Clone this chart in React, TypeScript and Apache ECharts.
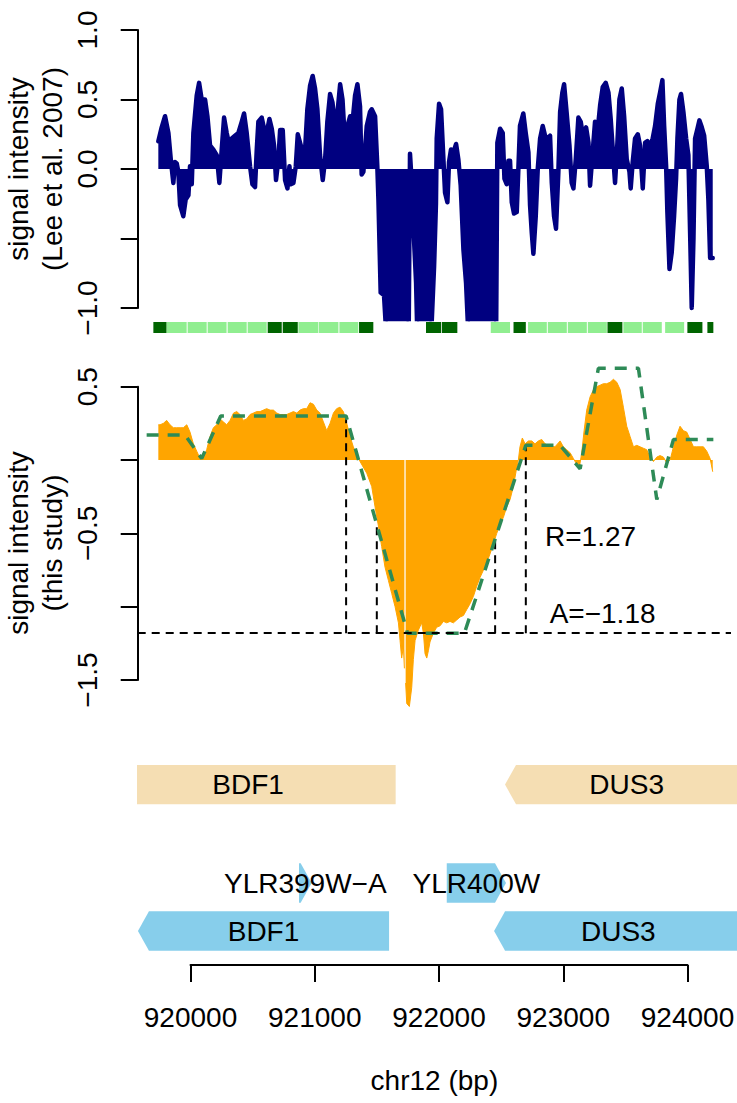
import React, { useEffect, useRef } from "react";
import * as echarts from "echarts";

// ---------- data ----------
// Top panel (Lee et al. 2007) signal: positions (bp) and intensities
const navyPos = [
  919741, 919768, 919795, 919822, 919841, 919862, 919875, 919889, 919902, 919916,
  919942, 919961, 919983, 919996, 920010, 920023, 920050, 920069, 920090, 920117,
  920136, 920157, 920184, 920211, 920232, 920251, 920270, 920291, 920313, 920332,
  920358, 920385, 920412, 920431, 920452, 920479, 920498, 920519, 920533, 920546,
  920573, 920592, 920613, 920635, 920654, 920672, 920688, 920707, 920721, 920742,
  920761, 920780, 920796, 920806, 920828, 920847, 920863, 920881, 920903, 920922,
  920940, 920962, 920983, 921002, 921021, 921042, 921064, 921083, 921101, 921123,
  921142, 921163, 921183, 921204, 921223, 921244, 921263, 921284, 921306, 921324,
  921343, 921364, 921377, 921391, 921418, 921444, 921458, 921485, 921503, 921512,
  921530, 921557, 921579, 921610, 921660, 921710, 921755, 921766, 921780, 921793,
  921815, 921825, 921870, 921920, 921941, 921960, 921975, 921981, 922000, 922016,
  922035, 922048, 922067, 922080, 922096, 922115, 922137, 922155, 922174, 922196,
  922217, 922236, 922290, 922360, 922430, 922459, 922469, 922491, 922512, 922526,
  922544, 922558, 922571, 922585, 922603, 922625, 922638, 922651, 922678, 922697,
  922719, 922732, 922746, 922759, 922778, 922794, 922813, 922834, 922853, 922872,
  922893, 922907, 922925, 922941, 922960, 922974, 922992, 923006, 923027, 923049,
  923067, 923081, 923100, 923121, 923140, 923161, 923183, 923202, 923215, 923234,
  923255, 923274, 923296, 923317, 923341, 923363, 923381, 923403, 923416, 923435,
  923451, 923470, 923489, 923510, 923532, 923542, 923558, 923577, 923599, 923617,
  923639, 923658, 923676, 923698, 923719, 923738, 923760, 923778, 923797, 923811,
  923827, 923837, 923854, 923872, 923891, 923907, 923918, 923934, 923947, 923966,
  923988, 924006, 924020, 924033, 924047, 924060, 924079, 924095, 924114, 924133,
  924154, 924167, 924181, 924202,
];
const navyVal = [
  0.20, 0.30, 0.38, 0.26, 0.07, -0.10, 0.05, 0.04, -0.02, -0.26,
  -0.34, -0.22, -0.19, 0.02, -0.11, 0.26, 0.53, 0.62, 0.50, 0.50,
  0.38, 0.17, 0.14, 0.10, -0.10, 0.14, 0.37, 0.26, 0.17, 0.22,
  0.24, 0.26, 0.34, 0.40, 0.26, 0.02, -0.11, -0.13, 0.14, 0.34,
  0.37, 0.29, 0.26, 0.36, 0.29, 0.17, -0.08, 0.07, 0.28, 0.28,
  -0.08, -0.14, 0.02, -0.11, -0.10, 0.02, 0.25, 0.19, 0.12, 0.14,
  0.43, 0.60, 0.67, 0.58, 0.43, 0.10, -0.08, 0.07, 0.34, 0.54,
  0.48, 0.31, 0.41, 0.61, 0.50, 0.17, 0.31, 0.38, 0.36, 0.53,
  0.61, 0.45, -0.04, -0.02, 0.31, 0.41, 0.43, 0.38, 0.02, -0.22,
  -0.89, -0.91, -1.25, -1.3, -1.3, -1.3, -1.25, 0.11, -0.10, -0.41,
  -0.82, -1.2, -1.3, -1.3, -1.1, -0.7, -0.25, 0.22, 0.47, 0.43,
  0.07, -0.17, -0.24, 0.05, 0.14, 0.12, 0.18, 0.07, -0.12, -0.58,
  -0.82, -1.2, -1.3, -1.3, -1.3, -1.2, 0.19, 0.29, 0.26, -0.07,
  -0.11, 0.06, 0.06, -0.24, -0.32, -0.31, 0.00, 0.31, 0.40, 0.26,
  0.12, -0.26, -0.46, -0.61, -0.34, 0.00, 0.22, 0.31, 0.24, 0.22,
  0.24, -0.10, -0.34, -0.43, -0.02, 0.41, 0.55, 0.61, 0.40, 0.17,
  -0.10, -0.14, 0.07, 0.37, 0.34, 0.22, 0.30, 0.19, -0.12, 0.10,
  0.34, 0.26, 0.46, 0.59, 0.62, 0.55, 0.36, 0.07, -0.10, 0.19,
  0.50, 0.58, 0.38, 0.07, -0.02, -0.14, 0.05, 0.22, 0.25, 0.17,
  -0.14, 0.19, 0.20, 0.17, 0.22, 0.31, 0.47, 0.55, 0.64, 0.31,
  0.02, -0.31, -0.72, -0.60, -0.34, -0.07, 0.22, 0.50, 0.54, 0.41,
  0.22, 0.10, -0.46, -1.00, -0.50, 0.22, 0.29, 0.35, 0.30, 0.24,
  0.02, -0.22, -0.64, -0.64,
];

// Middle panel (this study) signal; null marks the missing probe
const orangePos = [
  919741, 919755, 919782, 919808, 919835, 919862, 919889, 919916, 919942, 919970,
  919996, 920023, 920050, 920077, 920103, 920130, 920157, 920184, 920211, 920238,
  920264, 920291, 920318, 920346, 920372, 920398, 920425, 920452, 920479, 920506,
  920533, 920560, 920586, 920613, 920640, 920667, 920694, 920721, 920747, 920774,
  920801, 920828, 920855, 920881, 920908, 920935, 920962, 920989, 921016, 921042,
  921069, 921096, 921123, 921150, 921176, 921203, 921230, 921257, 921284, 921310,
  921337, 921364, 921418, 921458, 921485, 921512, 921538, 921565, 921592, 921619,
  921646, 921673, 921686, 921699, 921713, 921721, 921726, 921731, 921740, 921761,
  921780, 921793, 921807, 921833, 921860, 921874, 921887, 921901, 921914, 921927,
  921954, 921981, 922008, 922035, 922062, 922088, 922115, 922142, 922169, 922196,
  922222, 922249, 922276, 922303, 922330, 922357, 922383, 922410, 922437, 922464,
  922491, 922518, 922544, 922571, 922598, 922619, 922638, 922651, 922670, 922692,
  922719, 922746, 922772, 922799, 922826, 922853, 922880, 922907, 922933, 922974,
  923000, 923027, 923054, 923081, 923108, 923129, 923148, 923167, 923188, 923215,
  923243, 923269, 923296, 923322, 923349, 923376, 923403, 923430, 923457, 923483,
  923510, 923537, 923564, 923591, 923617, 923644, 923671, 923698, 923725, 923752,
  923778, 923805, 923832, 923859, 923886, 923913, 923939, 923966, 923993, 924020,
  924047, 924073, 924100, 924127, 924154, 924181, 924202,
];
const orangeVal = [
  0.24, 0.24, 0.25, 0.27, 0.24, 0.22, 0.22, 0.22, 0.22, 0.24,
  0.19, 0.11, 0.06, 0.01, 0.01, 0.07, 0.16, 0.22, 0.24, 0.28,
  0.26, 0.24, 0.27, 0.32, 0.33, 0.31, 0.27, 0.28, 0.31, 0.32,
  0.33, 0.33, 0.34, 0.35, 0.34, 0.34, 0.32, 0.31, 0.31, 0.31,
  0.32, 0.33, 0.32, 0.34, 0.35, 0.35, 0.39, 0.38, 0.34, 0.32,
  0.26, 0.20, 0.25, 0.32, 0.35, 0.36, 0.33, 0.25, 0.16, 0.09,
  0.03, -0.01, -0.09, -0.18, -0.32, -0.45, -0.59, -0.73, -0.82, -0.91,
  -1.00, -1.11, -1.23, -1.35, -1.27, -1.42, null, -1.52, -1.66, -1.68,
  -1.55, -1.36, -1.23, -1.16, -1.11, -1.18, -1.32, -1.35, -1.30, -1.24,
  -1.18, -1.14, -1.13, -1.10, -1.11, -1.10, -1.11, -1.09, -1.07, -1.06,
  -1.02, -0.98, -0.93, -0.86, -0.80, -0.75, -0.70, -0.64, -0.57, -0.50,
  -0.44, -0.39, -0.32, -0.27, -0.18, -0.08, 0.00, 0.09, 0.15, 0.11,
  0.13, 0.13, 0.11, 0.13, 0.14, 0.11, 0.10, 0.09, 0.09, 0.13,
  0.09, 0.07, 0.05, 0.01, -0.03, -0.05, 0.05, 0.20, 0.34, 0.43,
  0.48, 0.50, 0.51, 0.52, 0.52, 0.53, 0.55, 0.53, 0.48, 0.36,
  0.23, 0.16, 0.09, 0.10, 0.09, 0.08, 0.07, 0.02, -0.01, 0.02,
  0.03, 0.02, -0.02, 0.00, 0.09, 0.17, 0.23, 0.20, 0.19, 0.14,
  0.09, 0.09, 0.09, 0.09, 0.06, 0.01, -0.08,
];

// Segmented (trapezoid) fit
const fitPos = [919647, 919956, 920090, 920243, 921252, 921746, 922204, 922698, 922974, 923135, 923282, 923604, 923752, 923886, 924207];
const fitVal = [0.17, 0.17, 0.01, 0.30, 0.30, -1.18, -1.18, 0.10, 0.10, -0.06, 0.625, 0.625, -0.27, 0.14, 0.14];

// Boundaries of the depleted region and its fitted amplitude / ratio
const cutPos = [921252, 921499, 922451, 922698];
const cutTop = [0.30, -0.44, -0.54, 0.10];
const amplitude = -1.18;
const ratio = 1.27;

// Segment strip under the top panel (1 = dark, 0 = light)
const stripStart = [919701, 919808, 919977, 920138, 920299, 920460, 920621, 920742, 920868, 921034, 921198, 921356, 921895, 922022, 922416, 922599, 922716, 922875, 923036, 923197, 923355, 923483, 923639, 923819, 923998, 924159];
const stripEnd = [919808, 919969, 920130, 920290, 920452, 920613, 920734, 920863, 921029, 921190, 921350, 921471, 922016, 922147, 922571, 922698, 922867, 923028, 923189, 923350, 923475, 923631, 923792, 923972, 924119, 924207];
const stripDark = [1, 0, 0, 0, 0, 0, 1, 1, 0, 0, 0, 1, 1, 1, 0, 1, 0, 0, 0, 0, 1, 0, 0, 0, 1, 1];

// Gene annotation
const geneName = ["BDF1", "DUS3", "YLR399W\u2212A", "YLR400W", "BDF1", "DUS3"];
const geneStart = [919275, 922531, 920873, 922062, 919577, 922443];
const geneEnd = [921651, 924489, 920975, 922539, 921598, 924443];
const geneStrand = [-1, -1, 1, 1, -1, -1];
const geneTrack = [3.05, 3.05, 1, 1, 0, 0];
const geneSource = ["tan", "tan", "blue", "blue", "blue", "blue"];

// Tick labels
const xTickValues = [920000, 921000, 922000, 923000, 924000];
const xTickLabels = ["920000", "921000", "922000", "923000", "924000"];
const topTickValues = [-1, -0.5, 0, 0.5, 1];
const topTickLabels = ["\u22121.0", "", "0.0", "0.5", "1.0"];
const midTickValues = [-1.5, -1, -0.5, 0, 0.5];
const midTickLabels = ["\u22121.5", "", "\u22120.5", "", "0.5"];

// ---------- styling ----------
const FONT_FAMILY = '"Liberation Sans", Arial, Helvetica, sans-serif';
const FONT = `28px ${FONT_FAMILY}`;
const XMIN = 919575;
const XMAX = 924349;
const XMAX_GENES = 924398;
const GENE_HEIGHT = 0.82;
const COLORS = {
  navy: "#000080",
  orange: "#FFA500",
  fit: "#2E8B57",
  tan: "#F5DEB3",
  blue: "#87CEEB",
  dark: "#006400",
  light: "#90EE90",
};

const lookup = (vals: number[], labels: string[]) => (v: number) => {
  const i = vals.findIndex((t) => Math.abs(t - v) < 1e-6);
  return i >= 0 ? labels[i] : "";
};

const axisLineStyle = { color: "#000", width: 2 };

const visibleY = (gridIndex: number, min: number, max: number, vals: number[], labels: string[]) => ({
  type: "value",
  gridIndex,
  min,
  max,
  interval: 0.5,
  position: "left",
  axisLine: { show: true, onZero: false, lineStyle: axisLineStyle },
  axisTick: { show: true, length: 17, inside: false, lineStyle: axisLineStyle },
  axisLabel: {
    show: true,
    rotate: 90,
    margin: 36,
    fontSize: 28,
    fontFamily: FONT_FAMILY,
    color: "#000",
    formatter: lookup(vals, labels),
  },
  splitLine: { show: false },
});

const hiddenAxis = (gridIndex: number, min: number, max: number) => ({
  type: "value",
  gridIndex,
  min,
  max,
  show: false,
  splitLine: { show: false },
});

const textStyle = (text: string, x: number, y: number) => ({
  text,
  x,
  y,
  font: FONT,
  fill: "#000",
  align: "center",
  verticalAlign: "middle",
  textAlign: "center",
  textVerticalAlign: "middle",
});

function buildOption() {
  const L = 137.7;
  const W = 593.3;
  const grids = [
    { left: L, top: 19, width: W, height: 300 }, // 0 top data
    { left: L, top: 30, width: W, height: 278 }, // 1 top axis
    { left: L, top: 322, width: W, height: 11 }, // 2 strip
    { left: L, top: 366.1, width: W, height: 353.6 }, // 3 middle data
    { left: L, top: 386.7, width: W, height: 293.3 }, // 4 middle axis
    { left: L, top: 763, width: 599.3, height: 192 }, // 5 genes
    { left: 190.5, top: 964, width: 497, height: 1 }, // 6 x axis
  ].map((g) => ({ ...g, show: false, containLabel: false, outerBoundsMode: "none" }));

  const xAxis = [
    hiddenAxis(0, XMIN, XMAX),
    hiddenAxis(1, XMIN, XMAX),
    hiddenAxis(2, XMIN, XMAX),
    hiddenAxis(3, XMIN, XMAX),
    hiddenAxis(4, XMIN, XMAX),
    hiddenAxis(5, XMIN, XMAX_GENES),
    {
      type: "value",
      gridIndex: 6,
      min: xTickValues[0],
      max: xTickValues[xTickValues.length - 1],
      interval: 1000,
      position: "bottom",
      axisLine: { show: true, onZero: false, lineStyle: axisLineStyle },
      axisTick: { show: true, length: 17, inside: false, lineStyle: axisLineStyle },
      axisLabel: {
        show: true,
        margin: 38,
        fontSize: 28,
        fontFamily: FONT_FAMILY,
        color: "#000",
        formatter: lookup(xTickValues, xTickLabels),
      },
      splitLine: { show: false },
    },
  ];

  const yAxis = [
    hiddenAxis(0, -1.08, 1.08),
    visibleY(1, -1, 1, topTickValues, topTickLabels),
    hiddenAxis(2, 0, 1),
    hiddenAxis(3, -1.77, 0.64),
    visibleY(4, -1.5, 0.5, midTickValues, midTickLabels),
    hiddenAxis(5, -0.5, 3.5),
    hiddenAxis(6, 0, 1),
  ];

  const fmt = (v: number) => v.toFixed(2).replace("-", "\u2212");

  const series: any[] = [
    {
      name: "Lee et al. 2007",
      type: "line",
      xAxisIndex: 0,
      yAxisIndex: 0,
      data: navyPos.map((x, i) => [x, navyVal[i]]),
      symbol: "none",
      showSymbol: false,
      clip: true,
      lineStyle: { color: COLORS.navy, width: 4.5, cap: "round", join: "round" },
      areaStyle: { color: COLORS.navy, opacity: 1, origin: 0 },
      z: 2,
    },
    {
      name: "segments",
      type: "custom",
      xAxisIndex: 2,
      yAxisIndex: 2,
      data: stripStart.map((s, i) => [s, stripEnd[i], stripDark[i]]),
      renderItem: (_p: any, api: any) => {
        const a = api.coord([api.value(0), 1]);
        const b = api.coord([api.value(1), 0]);
        return {
          type: "rect",
          shape: { x: a[0], y: a[1], width: b[0] - a[0], height: b[1] - a[1] },
          style: { fill: api.value(2) ? COLORS.dark : COLORS.light },
        };
      },
    },
    {
      name: "this study",
      type: "line",
      xAxisIndex: 3,
      yAxisIndex: 3,
      data: orangePos.map((x, i) => [x, orangeVal[i]]),
      symbol: "none",
      showSymbol: false,
      connectNulls: false,
      clip: true,
      lineStyle: { color: COLORS.orange, width: 1 },
      areaStyle: { color: COLORS.orange, opacity: 1, origin: 0 },
      markLine: {
        silent: true,
        symbol: ["none", "none"],
        label: { show: false },
        lineStyle: { color: "#000", width: 2, type: [8, 6] },
        data: [{ yAxis: amplitude }],
      },
      z: 2,
    },
    {
      name: "boundaries",
      type: "custom",
      xAxisIndex: 3,
      yAxisIndex: 3,
      data: cutPos.map((x, i) => [x, cutTop[i]]),
      renderItem: (_p: any, api: any) => {
        const a = api.coord([api.value(0), amplitude]);
        const b = api.coord([api.value(0), api.value(1)]);
        return {
          type: "line",
          shape: { x1: a[0], y1: a[1], x2: b[0], y2: b[1] },
          style: { stroke: "#000", lineWidth: 2, lineDash: [8, 6] },
        };
      },
      z: 3,
    },
    {
      name: "fit",
      type: "line",
      xAxisIndex: 3,
      yAxisIndex: 3,
      data: fitPos.map((x, i) => [x, fitVal[i]]),
      symbol: "none",
      showSymbol: false,
      clip: true,
      lineStyle: { color: COLORS.fit, width: 3.5, type: [12, 9] },
      z: 4,
    },
    {
      name: "fit labels",
      type: "custom",
      xAxisIndex: 3,
      yAxisIndex: 3,
      data: [
        [923219, -0.523],
        [923316, -1.045],
      ],
      renderItem: (p: any, api: any) => {
        const c = api.coord([api.value(0), api.value(1)]);
        const txt = p.dataIndex === 0 ? `R=${ratio.toFixed(2)}` : `A=${fmt(amplitude)}`;
        return { type: "text", style: textStyle(txt, c[0], c[1]) };
      },
      z: 5,
    },
    {
      name: "genes",
      type: "custom",
      xAxisIndex: 5,
      yAxisIndex: 5,
      clip: true,
      data: geneStart.map((s, i) => [s, geneEnd[i], geneTrack[i]]),
      renderItem: (p: any, api: any) => {
        const i = p.dataIndex;
        const a = api.coord([geneStart[i], geneTrack[i]]);
        const b = api.coord([geneEnd[i], geneTrack[i]]);
        const h = api.size([0, GENE_HEIGHT])[1] / 2;
        const x0 = a[0];
        const x1 = b[0];
        const yc = a[1];
        const head = Math.min(11, x1 - x0);
        const pts =
          geneStrand[i] < 0
            ? [[x0, yc], [x0 + head, yc - h], [x1, yc - h], [x1, yc + h], [x0 + head, yc + h]]
            : [[x0, yc - h], [x1 - head, yc - h], [x1, yc], [x1 - head, yc + h], [x0, yc + h]];
        const fill = geneSource[i] === "tan" ? COLORS.tan : COLORS.blue;
        return {
          type: "group",
          children: [
            { type: "polygon", shape: { points: pts }, style: { fill } },
            { type: "text", style: textStyle(geneName[i], (x0 + x1) / 2, yc), z2: 10 },
          ],
        };
      },
    },
  ];

  const graphic = [
    { type: "text", x: 18, y: 169, rotation: Math.PI / 2, style: textStyle("signal intensity", 0, 0) },
    { type: "text", x: 52, y: 169, rotation: Math.PI / 2, style: textStyle("(Lee et al. 2007)", 0, 0) },
    { type: "text", x: 18, y: 543, rotation: Math.PI / 2, style: textStyle("signal intensity", 0, 0) },
    { type: "text", x: 52, y: 543, rotation: Math.PI / 2, style: textStyle("(this study)", 0, 0) },
    { type: "text", x: 434.4, y: 1080, style: textStyle("chr12 (bp)", 0, 0) },
  ];

  return {
    animation: false,
    backgroundColor: "#ffffff",
    textStyle: { fontFamily: FONT_FAMILY },
    grid: grids,
    xAxis,
    yAxis,
    series,
    graphic,
  };
}

export default function App() {
  const ref = useRef<HTMLDivElement>(null);
  useEffect(() => {
    document.body.style.margin = "0";
    const chart = echarts.init(ref.current as HTMLDivElement, null, {
      renderer: "svg",
      width: 737,
      height: 1103,
    });
    chart.setOption(buildOption() as any);
    return () => chart.dispose();
  }, []);
  return (
    <div
      ref={ref}
      style={{ position: "absolute", left: 0, top: 0, width: 737, height: 1103 }}
    />
  );
}
